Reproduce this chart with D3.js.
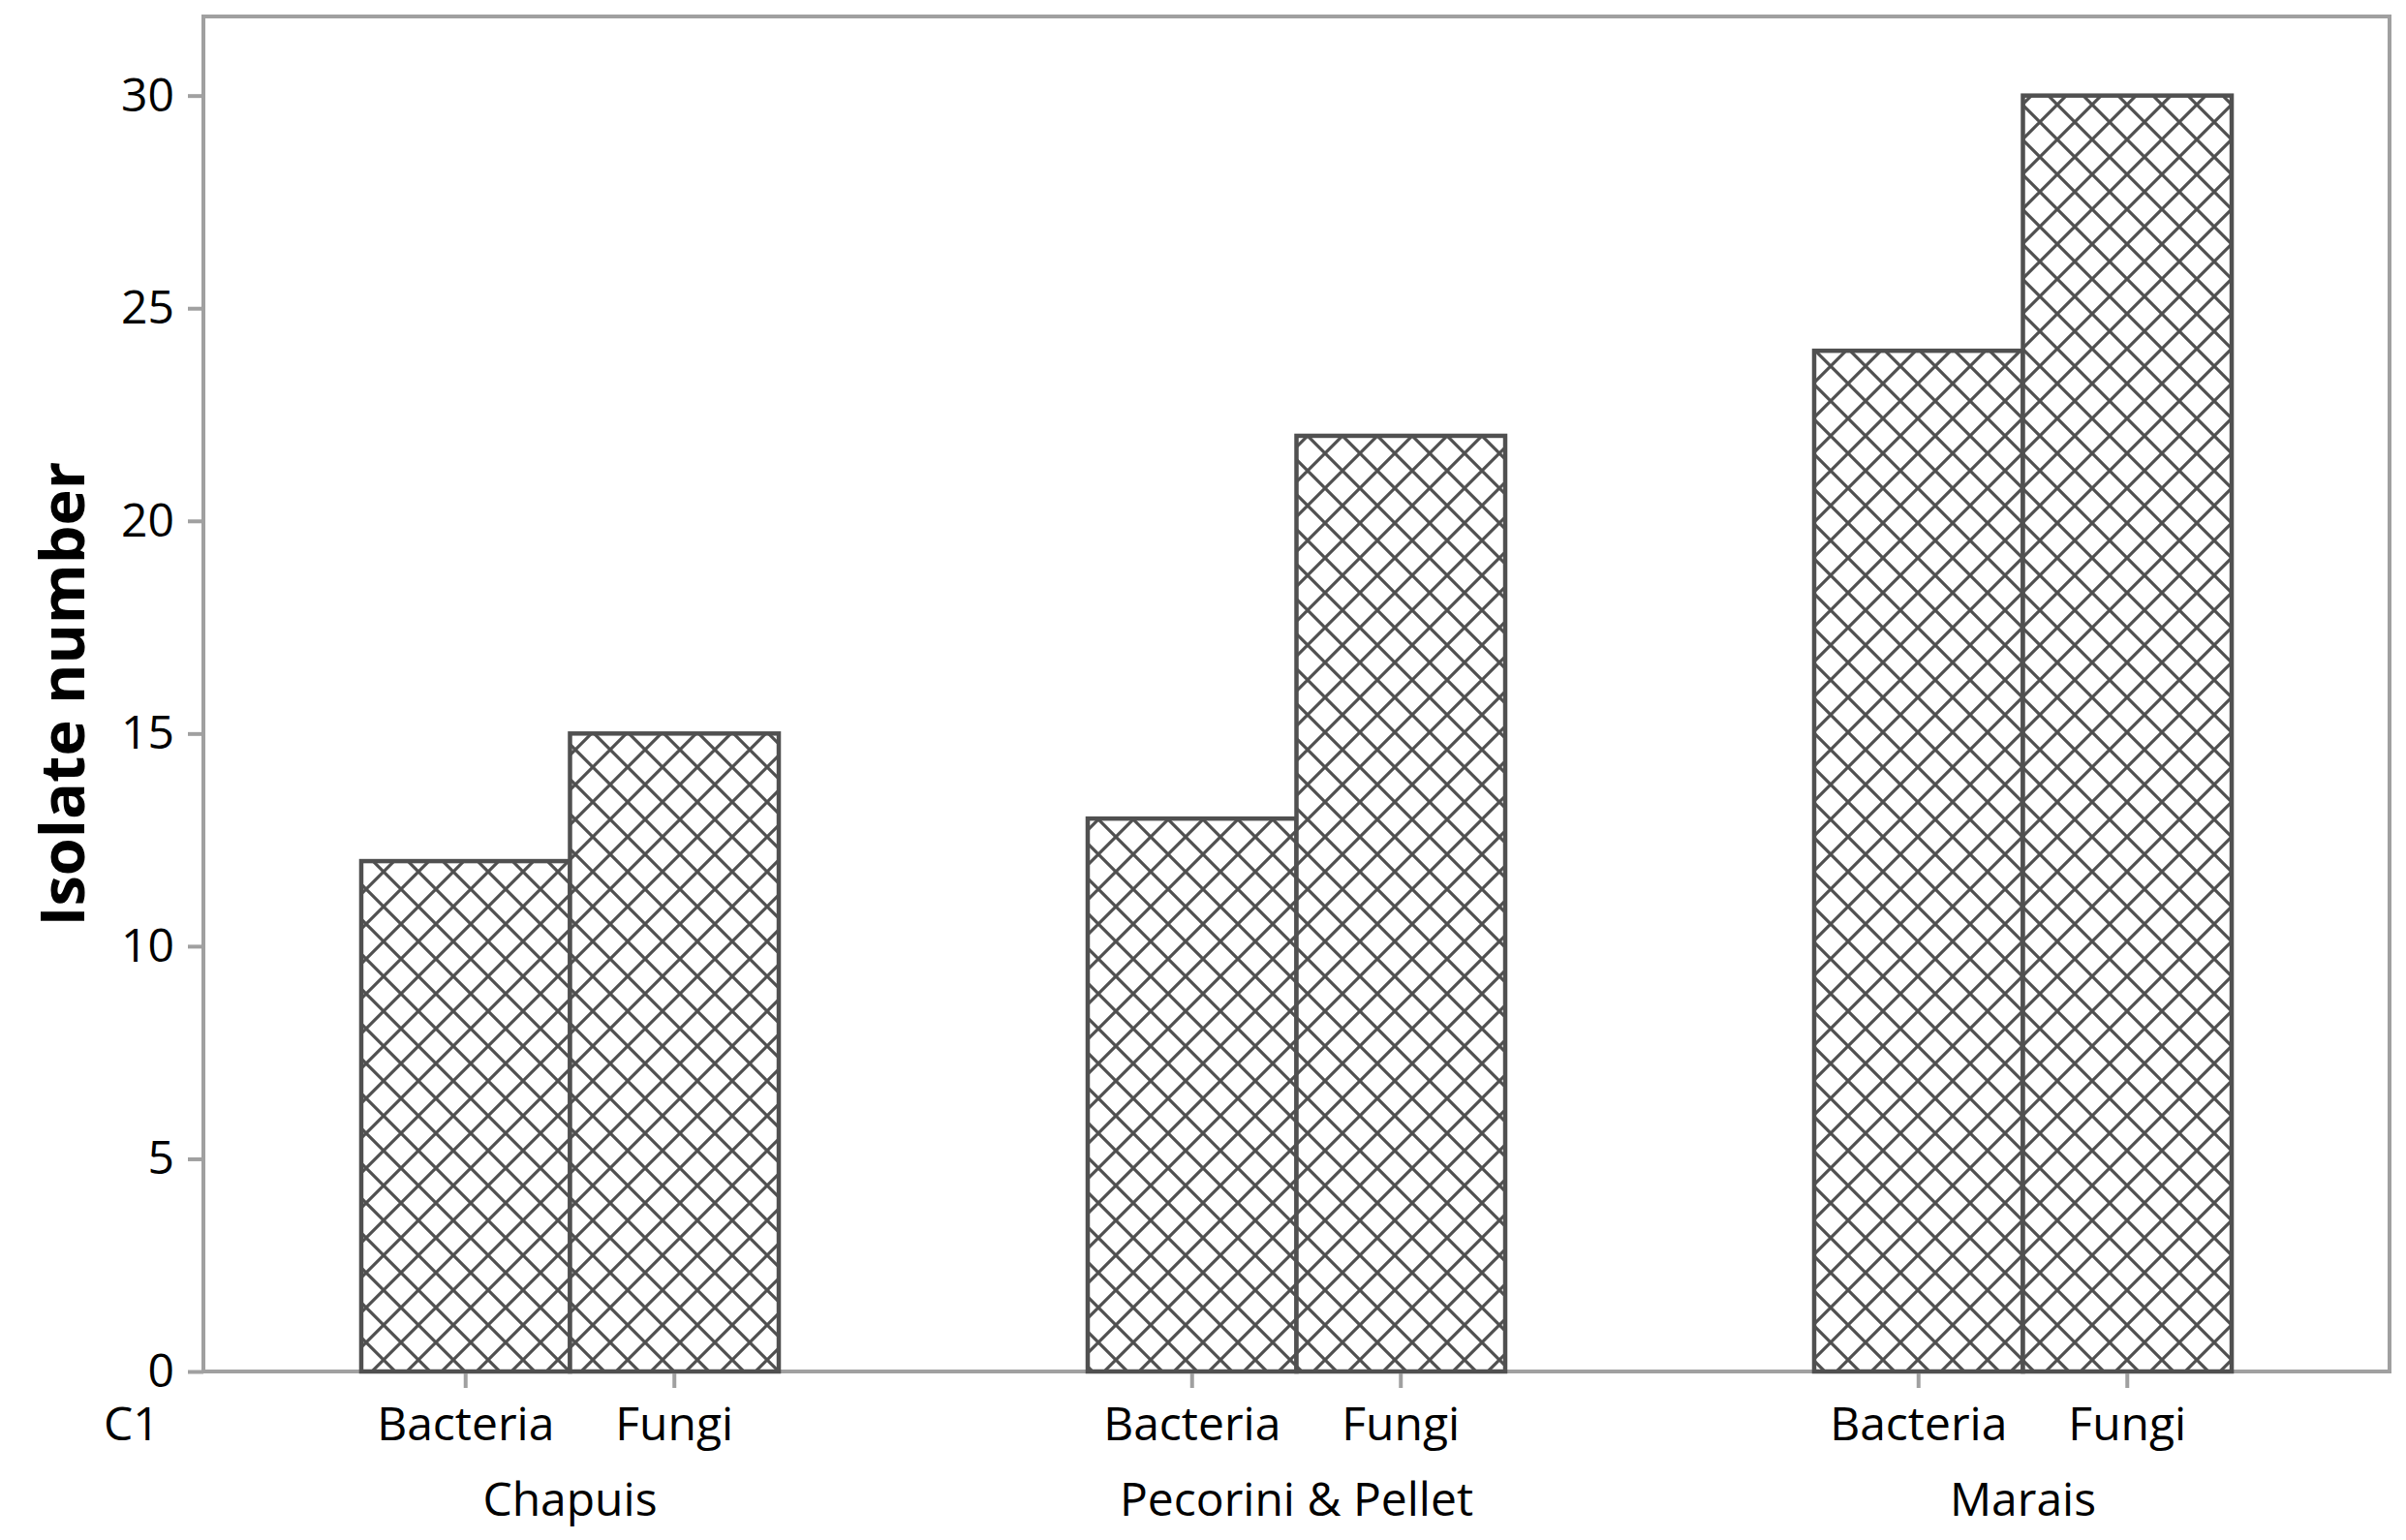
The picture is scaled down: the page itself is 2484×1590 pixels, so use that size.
<!doctype html>
<html>
<head>
<meta charset='utf-8'>
<script src="https://d3js.org/d3.v7.min.js" charset="utf-8"></script>
<style>
body { margin: 0; background: #fff; }
text { font-family: "Open Sans", "Noto Sans", sans-serif; fill: #000; }
</style>
</head>
<body>
<svg id="chart" width="2484" height="1590"></svg>
<script>
// data
var sites = ['Chapuis', 'Pecorini & Pellet', 'Marais'];
var kinds = ['Bacteria', 'Fungi'];
var bacteria = [12, 13, 24];
var fungi = [15, 22, 30];
var yTicks = [0, 5, 10, 15, 20, 25, 30];

var rows = [];
sites.forEach(function(s, i) {
	rows.push({site: s, kind: 'Bacteria', value: bacteria[i]});
	rows.push({site: s, kind: 'Fungi', value: fungi[i]});
});

var svg = d3.select('#chart');
// plot frame (window.top is taken, so other names)
var plotL = 210, plotR = 2467, plotT = 17, plotB = 1416;
var frameCol = '#a0a0a0', barCol = '#505050';

// crosshatch fill
var pat = svg.append('defs').append('pattern')
	.attr('id', 'hatch')
	.attr('patternUnits', 'userSpaceOnUse')
	.attr('width', 36).attr('height', 36);
pat.append('rect').attr('width', 36).attr('height', 36).attr('fill', '#fff');
pat.append('path')
	.attr('d', 'M0,0L36,36M36,0L0,36M-5,31L5,41M31,-5L41,5M-5,5L5,-5M31,41L41,31')
	.attr('stroke', barCol).attr('stroke-width', 3.2).attr('fill', 'none');

var x0 = d3.scaleBand().domain(sites).range([plotL, plotR])
	.paddingInner(0.4253).paddingOuter(0.2173);
var x1 = d3.scaleBand().domain(kinds).range([0, x0.bandwidth()]);
var y = d3.scaleLinear().domain([0, 31.86]).range([plotB, plotT]);

// frame
svg.append('rect')
	.attr('x', plotL).attr('y', plotT)
	.attr('width', plotR - plotL).attr('height', plotB - plotT)
	.attr('fill', 'none').attr('stroke', frameCol).attr('stroke-width', 4);

// y axis
var yAxis = svg.append('g')
	.attr('transform', 'translate(' + plotL + ',0)')
	.call(d3.axisLeft(y).tickValues(yTicks).tickSize(16).tickPadding(14));
yAxis.select('.domain').remove();
yAxis.selectAll('line').attr('stroke', frameCol).attr('stroke-width', 4);
yAxis.selectAll('text').style('font-size', '48px').attr('fill', '#000')
	.style('font-family', '"Open Sans", sans-serif');

// bars
svg.append('g').selectAll('rect.bar')
	.data(rows)
	.enter()
	.append('rect')
	.attr('class', 'bar')
	.attr('x', function(d) { return x0(d.site) + x1(d.kind); })
	.attr('y', function(d) { return y(d.value); })
	.attr('width', x1.bandwidth())
	.attr('height', function(d) { return y(0) - y(d.value); })
	.attr('fill', 'url(#hatch)')
	.attr('stroke', barCol).attr('stroke-width', 4.5);

// x ticks and labels
var xt = svg.append('g').selectAll('g.xt')
	.data(rows)
	.enter()
	.append('g')
	.attr('class', 'xt')
	.attr('transform', function(d) {
		return 'translate(' + (x0(d.site) + x1(d.kind) + x1.bandwidth() / 2) + ',' + plotB + ')';
	});
xt.append('line').attr('y1', 2).attr('y2', 17)
	.attr('stroke', frameCol).attr('stroke-width', 4);
xt.append('text')
	.attr('y', 71).attr('text-anchor', 'middle')
	.style('font-size', '48px')
	.text(function(d) { return d.kind; });

svg.append('g').selectAll('text.site')
	.data(sites)
	.enter()
	.append('text')
	.attr('class', 'site')
	.attr('x', function(d) { return x0(d) + x0.bandwidth() / 2; })
	.attr('y', plotB + 149)
	.attr('text-anchor', 'middle')
	.style('font-size', '48px')
	.text(function(d) { return d; });

svg.append('text')
	.attr('x', 107).attr('y', plotB + 71)
	.style('font-size', '48px')
	.text('C1');

svg.append('text')
	.attr('transform', 'translate(87,' + ((plotT + plotB) / 2) + ') rotate(-90)')
	.attr('text-anchor', 'middle')
	.style('font-size', '63px').style('font-weight', 'bold')
	.text('Isolate number');
</script>
</body>
</html>
